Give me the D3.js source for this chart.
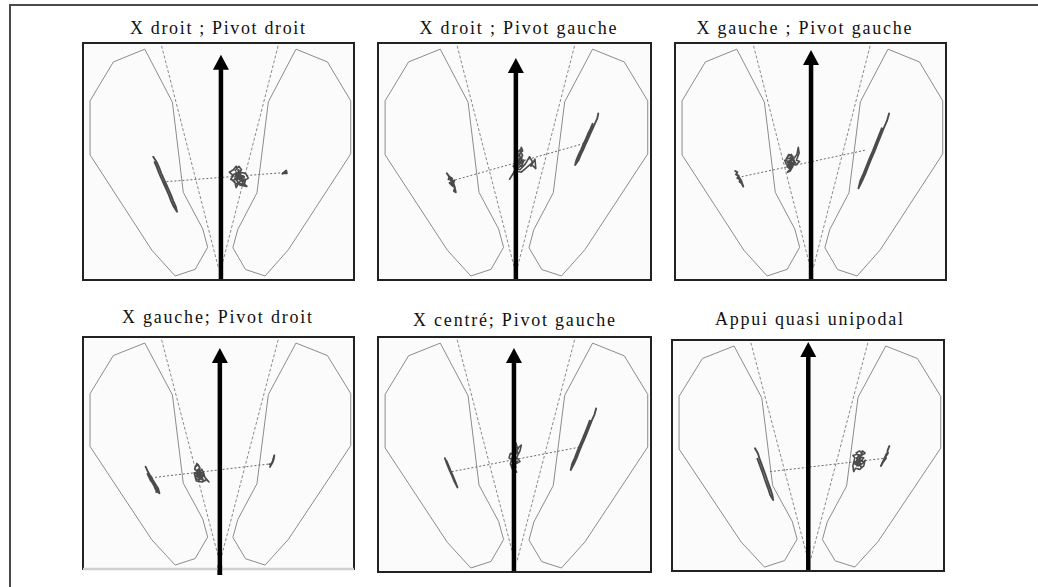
<!DOCTYPE html>
<html>
<head>
<meta charset="utf-8">
<script src="https://cdn.jsdelivr.net/npm/d3@7/dist/d3.min.js"></script>
<style>
  html, body { margin: 0; padding: 0; background: #fff; }
  svg { display: block; }
  .ttl { font-family: "Liberation Serif", "Times New Roman", "DejaVu Serif", serif; font-size: 18px; }
</style>
</head>
<body>
<svg id="chart" width="1038" height="587"></svg>
<script>
// Stabilogram panels: centre-of-pressure traces under each foot and overall,
// in a normalised platform frame (0..1 across, 0..1 down).

const titles = [
  "X droit ; Pivot droit",
  "X droit ; Pivot gauche",
  "X gauche ; Pivot gauche",
  "X gauche; Pivot droit",
  "X centré; Pivot gauche",
  "Appui quasi unipodal"
];

// Foot outlines (same template in every panel)
const leftFoot = [
  [0.228,0.026],[0.112,0.080],[0.026,0.244],[0.026,0.472],[0.254,0.874],
  [0.340,0.983],[0.414,0.955],[0.460,0.862],[0.442,0.785],[0.370,0.630],[0.330,0.250]
];
const rightFoot = [
  [0.786,0.026],[0.902,0.080],[0.988,0.244],[0.988,0.468],[0.758,0.872],
  [0.672,0.983],[0.600,0.956],[0.553,0.864],[0.571,0.787],[0.642,0.632],[0.684,0.248]
];
// Long axes of the feet
const leftAxis = [[0.290,0.012],[0.500,0.950]];
const rightAxis = [[0.720,0.012],[0.510,0.950]];

// Heading arrow: x position and tip height per panel
const headingX = [0.509, 0.505, 0.502, 0.505, 0.498, 0.501];
const headingTip = [0.050, 0.063, 0.030, 0.047, 0.047, 0.009];

// Centre-of-pressure trace under the left foot, per panel
const copLeft = [
  [[0.259,0.480],[0.272,0.503],[0.281,0.526],[0.289,0.550],[0.298,0.573],[0.307,0.596],[0.316,0.619],
   [0.325,0.642],[0.333,0.666],[0.342,0.689],[0.347,0.712],[0.334,0.689],[0.325,0.666],[0.317,0.642],
   [0.308,0.619],[0.299,0.596],[0.290,0.573],[0.281,0.550],[0.273,0.526],[0.264,0.503]],
  [[0.252,0.550],[0.262,0.565],[0.258,0.575],[0.272,0.572],[0.268,0.585],[0.280,0.580],[0.275,0.595],
   [0.262,0.590],[0.270,0.600],[0.282,0.610],[0.278,0.625],[0.285,0.630],[0.280,0.605],[0.275,0.585],
   [0.265,0.578],[0.258,0.560],[0.268,0.570],[0.272,0.590]],
  [[0.222,0.540],[0.230,0.545],[0.225,0.555],[0.235,0.560],[0.230,0.570],[0.240,0.575],[0.238,0.585],
   [0.246,0.592],[0.252,0.606],[0.244,0.580],[0.232,0.558],[0.236,0.572]],
  [[0.231,0.559],[0.240,0.582],[0.246,0.594],[0.253,0.605],[0.258,0.617],[0.264,0.628],[0.270,0.640],
   [0.277,0.652],[0.282,0.674],[0.272,0.665],[0.266,0.652],[0.262,0.640],[0.256,0.628],[0.249,0.617],
   [0.244,0.605],[0.238,0.590],[0.250,0.612],[0.268,0.645],[0.278,0.660],[0.270,0.668]],
  [[0.245,0.516],[0.253,0.541],[0.262,0.566],[0.271,0.590],[0.280,0.615],[0.291,0.640],[0.283,0.615],
   [0.274,0.590],[0.265,0.566],[0.256,0.541],[0.250,0.525]],
  [[0.305,0.469],[0.316,0.491],[0.322,0.514],[0.329,0.536],[0.336,0.559],[0.343,0.581],[0.349,0.603],
   [0.356,0.626],[0.363,0.648],[0.369,0.671],[0.372,0.693],[0.361,0.671],[0.355,0.648],[0.348,0.626],
   [0.341,0.603],[0.335,0.581],[0.328,0.559],[0.321,0.536],[0.314,0.514]]
];

// Centre-of-pressure trace under the right foot, per panel
const copRight = [
  [[0.736,0.552],[0.750,0.538],[0.752,0.550],[0.740,0.550],[0.748,0.542]],
  [[0.807,0.297],[0.803,0.319],[0.794,0.341],[0.786,0.362],[0.777,0.384],[0.769,0.406],[0.760,0.428],
   [0.752,0.450],[0.743,0.471],[0.735,0.493],[0.722,0.515],[0.727,0.493],[0.735,0.471],[0.744,0.450],
   [0.752,0.428],[0.761,0.406],[0.769,0.384],[0.778,0.362],[0.786,0.341],[0.770,0.395],[0.748,0.440],
   [0.740,0.465],[0.731,0.485]],
  [[0.790,0.297],[0.782,0.329],[0.770,0.360],[0.759,0.392],[0.748,0.423],[0.737,0.455],[0.725,0.487],
   [0.714,0.518],[0.703,0.550],[0.691,0.581],[0.677,0.613],[0.684,0.581],[0.696,0.550],[0.707,0.518],
   [0.718,0.487],[0.730,0.455],[0.741,0.423],[0.752,0.392],[0.763,0.360]],
  [[0.690,0.560],[0.697,0.545],[0.700,0.540],[0.704,0.525],[0.706,0.510],[0.700,0.535],[0.694,0.550],[0.688,0.548]],
  [[0.799,0.304],[0.793,0.330],[0.783,0.356],[0.774,0.383],[0.765,0.409],[0.756,0.435],[0.746,0.461],
   [0.737,0.487],[0.728,0.514],[0.718,0.540],[0.706,0.566],[0.711,0.540],[0.721,0.514],[0.730,0.487],
   [0.739,0.461],[0.749,0.435],[0.758,0.409],[0.767,0.383],[0.776,0.356]],
  [[0.799,0.459],[0.792,0.480],[0.794,0.490],[0.785,0.505],[0.787,0.512],[0.778,0.525],[0.768,0.545],
   [0.780,0.515],[0.790,0.490]]
];

// Overall centre-of-pressure trace, per panel
const copGlobal = [
  [[0.560,0.540],[0.575,0.520],[0.585,0.535],[0.570,0.555],[0.590,0.560],[0.580,0.580],[0.600,0.575],
   [0.595,0.600],[0.575,0.590],[0.565,0.610],[0.560,0.585],[0.545,0.575],[0.555,0.560],[0.540,0.545],
   [0.555,0.535],[0.565,0.520],[0.580,0.545],[0.600,0.550],[0.610,0.570],[0.590,0.585],[0.575,0.570],
   [0.560,0.570],[0.580,0.600],[0.605,0.605],[0.590,0.590],[0.572,0.560],[0.585,0.570],[0.568,0.578],
   [0.565,0.545],[0.578,0.552],[0.562,0.562],[0.585,0.548],[0.572,0.538],[0.590,0.572],[0.578,0.585],
   [0.565,0.595],[0.552,0.580],[0.568,0.572],[0.582,0.562],[0.595,0.565],[0.575,0.575],[0.560,0.552],
   [0.548,0.560]],
  [[0.505,0.470],[0.520,0.450],[0.530,0.475],[0.515,0.490],[0.535,0.495],[0.525,0.520],[0.510,0.505],
   [0.500,0.525],[0.520,0.535],[0.540,0.510],[0.555,0.480],[0.565,0.500],[0.560,0.520],[0.575,0.490],
   [0.578,0.530],[0.560,0.510],[0.540,0.530],[0.525,0.545],[0.505,0.540],[0.490,0.560],[0.482,0.575],
   [0.495,0.550],[0.510,0.520],[0.525,0.500],[0.505,0.495],[0.515,0.470],[0.530,0.455],[0.525,0.440],
   [0.518,0.480],[0.530,0.505],[0.512,0.512],[0.510,0.490],[0.522,0.505],[0.500,0.510],[0.515,0.525],
   [0.530,0.515],[0.508,0.530],[0.495,0.520],[0.518,0.495],[0.528,0.485],[0.512,0.478],[0.500,0.500],
   [0.520,0.515]],
  [[0.415,0.480],[0.430,0.470],[0.425,0.495],[0.440,0.485],[0.450,0.470],[0.455,0.440],[0.458,0.465],
   [0.448,0.495],[0.460,0.500],[0.445,0.515],[0.430,0.505],[0.420,0.525],[0.410,0.510],[0.405,0.495],
   [0.420,0.500],[0.435,0.520],[0.425,0.540],[0.415,0.545],[0.428,0.530],[0.440,0.500],[0.425,0.485],
   [0.410,0.490],[0.420,0.470],[0.435,0.478],[0.432,0.495],[0.418,0.512],[0.425,0.500],[0.438,0.510],
   [0.420,0.515],[0.430,0.490],[0.445,0.505],[0.428,0.520],[0.415,0.505],[0.433,0.485],[0.440,0.495],
   [0.422,0.530],[0.412,0.520]],
  [[0.415,0.560],[0.425,0.550],[0.432,0.565],[0.420,0.575],[0.435,0.580],[0.425,0.595],[0.440,0.600],
   [0.430,0.615],[0.415,0.610],[0.420,0.590],[0.410,0.585],[0.418,0.620],[0.440,0.625],[0.455,0.615],
   [0.465,0.625],[0.450,0.605],[0.445,0.585],[0.438,0.570],[0.428,0.585],[0.435,0.605],[0.422,0.600],
   [0.430,0.560],[0.420,0.545],[0.412,0.570],[0.425,0.580],[0.430,0.600],[0.442,0.612],[0.425,0.575],
   [0.435,0.590],[0.420,0.600],[0.432,0.610],[0.445,0.600],[0.428,0.570],[0.418,0.585],[0.440,0.585],
   [0.425,0.605],[0.450,0.620],[0.438,0.615]],
  [[0.495,0.460],[0.505,0.450],[0.510,0.470],[0.498,0.480],[0.512,0.490],[0.500,0.505],[0.485,0.495],
   [0.480,0.515],[0.495,0.525],[0.510,0.515],[0.520,0.530],[0.505,0.540],[0.490,0.545],[0.500,0.560],
   [0.508,0.575],[0.495,0.570],[0.485,0.540],[0.492,0.510],[0.505,0.495],[0.515,0.470],[0.525,0.460],
   [0.520,0.485],[0.505,0.520],[0.490,0.530],[0.500,0.490],[0.495,0.515],[0.498,0.500],[0.505,0.515],
   [0.490,0.520],[0.500,0.535],[0.510,0.528],[0.495,0.545],[0.505,0.555],[0.492,0.490],[0.508,0.480],
   [0.500,0.470]],
  [[0.675,0.490],[0.690,0.480],[0.700,0.495],[0.685,0.505],[0.705,0.510],[0.695,0.525],[0.680,0.520],
   [0.670,0.535],[0.685,0.545],[0.700,0.535],[0.710,0.520],[0.705,0.545],[0.690,0.560],[0.675,0.555],
   [0.668,0.570],[0.665,0.545],[0.672,0.510],[0.665,0.500],[0.680,0.495],[0.695,0.500],[0.710,0.490],
   [0.700,0.480],[0.685,0.530],[0.695,0.550],[0.688,0.515],[0.678,0.538],[0.685,0.500],[0.695,0.510],
   [0.682,0.525],[0.695,0.535],[0.680,0.545],[0.692,0.520],[0.700,0.525],[0.678,0.510],[0.688,0.540],
   [0.675,0.530]]
];

// Segment joining the mean left-foot and right-foot pressure points
const footLink = [
  [[0.308,0.585],[0.741,0.547]],
  [[0.282,0.578],[0.764,0.421]],
  [[0.246,0.564],[0.707,0.451]],
  [[0.266,0.605],[0.690,0.547]],
  [[0.270,0.573],[0.746,0.467]],
  [[0.360,0.570],[0.783,0.512]]
];

// ---- layout ----
const boxes = [
  {x0: 83,  x1: 354, y0: 43,  y1: 280},
  {x0: 378, x1: 651, y0: 43,  y1: 280},
  {x0: 675, x1: 946, y0: 43,  y1: 280},
  {x0: 83,  x1: 354, y0: 337, y1: 569},
  {x0: 378, x1: 651, y0: 337, y1: 572},
  {x0: 672, x1: 944, y0: 340, y1: 571}
];
const titleLayout = [
  {cx: 217.5, y: 34,  w: 175},
  {cx: 518,   y: 34,  w: 197},
  {cx: 804,   y: 34,  w: 215},
  {cx: 217,   y: 323, w: 190},
  {cx: 514,   y: 326, w: 202},
  {cx: 809,   y: 325, w: 188}
];
const arrowFoot = [0, 0, 0, 6, 0, 0];

const svg = d3.select("#chart");

// outer frame (left and top rules)
svg.append("path")
  .attr("d", "M10,587V5H1038")
  .attr("fill", "none")
  .attr("stroke", "#4a4a4a")
  .attr("stroke-width", 2);

titles.forEach((t, i) => {
  const b = boxes[i];
  const x = d3.scaleLinear().domain([0, 1]).range([b.x0, b.x1]);
  const y = d3.scaleLinear().domain([0, 1]).range([b.y0, b.y1]);
  const line = d3.line().x(d => x(d[0])).y(d => y(d[1]));
  const g = svg.append("g");

  // platform background
  g.append("rect")
    .attr("x", b.x0).attr("y", b.y0)
    .attr("width", b.x1 - b.x0).attr("height", b.y1 - b.y0)
    .attr("fill", "#fbfbfb");

  // feet outlines
  [leftFoot, rightFoot].forEach(f => {
    g.append("path")
      .attr("d", line(f) + "Z")
      .attr("fill", "none")
      .attr("stroke", "#8c8c8c")
      .attr("stroke-width", 1);
  });

  // feet axes
  [leftAxis, rightAxis].forEach(a => {
    g.append("path")
      .attr("d", line(a))
      .attr("fill", "none")
      .attr("stroke", "#8a8a8a")
      .attr("stroke-width", 1)
      .attr("stroke-dasharray", "3,2");
  });

  // link between feet pressure centres
  g.append("path")
    .attr("d", line(footLink[i]))
    .attr("fill", "none")
    .attr("stroke", "#6a6a6a")
    .attr("stroke-width", 1)
    .attr("stroke-dasharray", "2,2");

  // pressure traces
  [copLeft[i], copRight[i]].forEach(tr => {
    g.append("path")
      .attr("d", line(tr))
      .attr("fill", "none")
      .attr("stroke", "#4b4b4b")
      .attr("stroke-width", 1.9)
      .attr("stroke-linejoin", "round")
      .attr("stroke-linecap", "round");
  });
  g.append("path")
    .attr("d", line(copGlobal[i]))
    .attr("fill", "none")
    .attr("stroke", "#4b4b4b")
    .attr("stroke-width", 1.6)
    .attr("stroke-linejoin", "round");

  // heading arrow
  const ax = x(headingX[i]);
  const tipY = y(headingTip[i]);
  g.append("line")
    .attr("x1", ax).attr("x2", ax)
    .attr("y1", b.y1 + arrowFoot[i]).attr("y2", tipY + 12)
    .attr("stroke", "#000")
    .attr("stroke-width", 4.5);
  g.append("path")
    .attr("d", `M${ax},${tipY}L${ax - 8},${tipY + 15}L${ax + 8},${tipY + 15}Z`)
    .attr("fill", "#000");

  // platform frame
  g.append("rect")
    .attr("x", b.x0).attr("y", b.y0)
    .attr("width", b.x1 - b.x0).attr("height", b.y1 - b.y0)
    .attr("fill", "none")
    .attr("stroke", "#222")
    .attr("stroke-width", 2);
  if (i === 3) {
    g.append("line")
      .attr("x1", b.x0).attr("x2", b.x1)
      .attr("y1", b.y1).attr("y2", b.y1)
      .attr("stroke", "#d0d0d0")
      .attr("stroke-width", 2.5);
    g.append("line")
      .attr("x1", ax).attr("x2", ax)
      .attr("y1", b.y1 - 4).attr("y2", b.y1 + arrowFoot[i])
      .attr("stroke", "#000")
      .attr("stroke-width", 4.5);
  }

  // title
  const tl = titleLayout[i];
  svg.append("text")
    .attr("class", "ttl")
    .attr("x", tl.cx)
    .attr("y", tl.y)
    .attr("text-anchor", "middle")
    .attr("textLength", tl.w)
    .attr("lengthAdjust", "spacing")
    .attr("fill", "#111")
    .text(t);
});
</script>
</body>
</html>
